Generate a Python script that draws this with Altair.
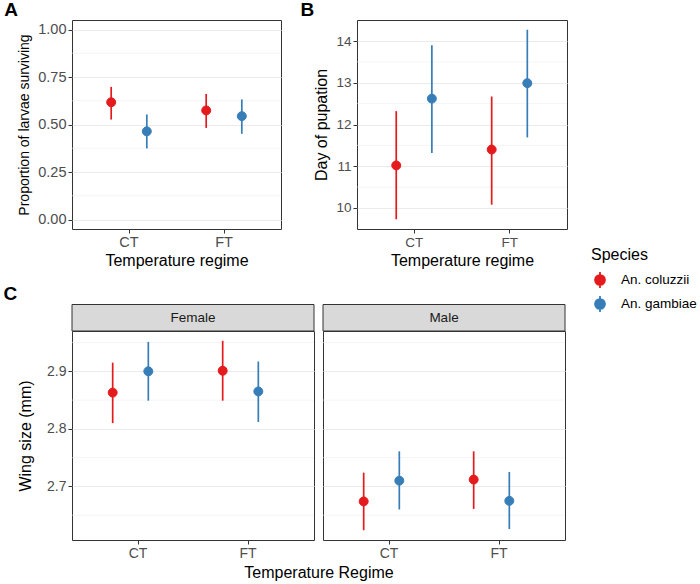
import altair as alt
import pandas as pd

# ---- data -------------------------------------------------------------
regimes = ["CT", "CT", "FT", "FT"]
species = ["An. coluzzii", "An. gambiae", "An. coluzzii", "An. gambiae"]

# A: proportion of larvae surviving (mean and 95% interval)
surv_mean = [0.617, 0.464, 0.574, 0.544]
surv_lo = [0.526, 0.374, 0.482, 0.451]
surv_hi = [0.698, 0.553, 0.661, 0.632]
surv_major = [0, 0.25, 0.5, 0.75, 1.0]
surv_minor = [0.125, 0.375, 0.625, 0.875]

# B: day of pupation
pup_mean = [11.02, 12.62, 11.40, 12.99]
pup_lo = [9.73, 11.32, 10.08, 11.69]
pup_hi = [12.32, 13.90, 12.67, 14.27]
pup_major = [10, 11, 12, 13, 14]
pup_minor = [10.5, 11.5, 12.5, 13.5]

# C: wing size, females then males
female_mean = [2.863, 2.900, 2.901, 2.865]
female_lo = [2.810, 2.849, 2.849, 2.812]
female_hi = [2.915, 2.951, 2.953, 2.917]
male_mean = [2.674, 2.710, 2.712, 2.675]
male_lo = [2.624, 2.660, 2.661, 2.626]
male_hi = [2.724, 2.761, 2.761, 2.725]
wing_major = [2.7, 2.8, 2.9]
wing_minor = [2.65, 2.75, 2.85, 2.95]

species_order = ["An. coluzzii", "An. gambiae"]
species_colors = ["#E41A1C", "#377EB8"]

FONT = "Liberation Sans"
TICK_GREY = "#4D4D4D"
BORDER = "#333333"
GRID = "#EBEBEB"


def frame(mean, lo, hi):
    return pd.DataFrame({"Regime": regimes, "Species": species,
                         "mean": mean, "lo": lo, "hi": hi})


df_a = frame(surv_mean, surv_lo, surv_hi)
df_b = frame(pup_mean, pup_lo, pup_hi)
df_f = frame(female_mean, female_lo, female_hi)
df_m = frame(male_mean, male_lo, male_hi)

# legend glyph: point with a vertical range line through it
pointrange_path = ("M0,-1L0,1M-0.62,0A0.62,0.62,0,1,1,0.62,0"
                   "A0.62,0.62,0,1,1,-0.62,0Z")

color_scale = alt.Scale(domain=species_order, range=species_colors)
species_legend = alt.Legend(title="Species", symbolType=pointrange_path,
                            symbolSize=256, symbolStrokeWidth=1.8)


def y_axis(title, values, fmt, title_size=16, label_size=14, title_pad=6.5,
           show=True):
    if not show:
        return alt.Axis(values=values, labels=False, ticks=False, title=None,
                        domain=False, gridWidth=1.1)
    return alt.Axis(title=title, values=values, format=fmt, gridWidth=1.1,
                    titleFontSize=title_size, labelFontSize=label_size,
                    titlePadding=title_pad, labelOverlap=False)


def x_axis(title, label_size=14, title_x=None):
    if title is None:
        return alt.Axis(title=None, labelAngle=0, bandPosition=0.5, gridWidth=1.1,
                        labelFontSize=label_size)
    kw = {} if title_x is None else {"titleX": title_x}
    return alt.Axis(title=title, labelAngle=0, bandPosition=0.5, gridWidth=1.1,
                    labelFontSize=label_size, **kw)


x_scale = alt.Scale(domain=["CT", "FT"], paddingInner=0, paddingOuter=0.1)
x_off = alt.XOffset("Species:N",
                    scale=alt.Scale(domain=species_order, paddingInner=0,
                                    paddingOuter=0.3333))


def pointrange(df, yaxis, domain, minor, xaxis):
    ysc = alt.Scale(domain=domain, nice=False, zero=False)
    x = alt.X("Regime:N", scale=x_scale, axis=xaxis)
    # thin minor grid lines halfway between the major ones
    minor_grid = alt.Chart(pd.DataFrame({"lo": minor})).mark_rule(
        color=GRID, strokeWidth=0.55
    ).encode(y=alt.Y("lo:Q", scale=ysc, axis=yaxis))
    rules = alt.Chart(df).mark_rule(strokeWidth=1.7).encode(
        x=x, xOffset=x_off,
        y=alt.Y("lo:Q", scale=ysc, axis=yaxis),
        y2="hi:Q",
        stroke=alt.Stroke("Species:N", scale=color_scale, legend=species_legend),
    )
    points = alt.Chart(df).mark_point(filled=True, size=80, strokeWidth=1, opacity=1).encode(
        x=x, xOffset=x_off,
        y=alt.Y("mean:Q", scale=ysc, axis=yaxis),
        fill=alt.Fill("Species:N", scale=color_scale, legend=species_legend),
        stroke=alt.Stroke("Species:N", scale=color_scale, legend=species_legend),
    )
    return alt.layer(minor_grid, rules, points)


def panel_title(letter):
    return alt.TitleParams(letter, anchor="start", frame="bounds", dx=-13,
                           fontSize=19, fontWeight="bold", font=FONT, offset=0)


# ---- panel A ----------------------------------------------------------
chart_a = pointrange(
    df_a,
    y_axis("Proportion of larvae surviving", surv_major, ".2f",
           title_size=14, label_size=14.5, title_pad=6.5),
    [-0.05, 1.05], surv_minor, x_axis("Temperature regime", label_size=14.5),
).properties(width=209, height=209, title=panel_title("A"))

# ---- panel B ----------------------------------------------------------
chart_b = pointrange(
    df_b,
    y_axis("Day of pupation", pup_major, ".0f", label_size=13.5, title_pad=6.5),
    [9.497, 14.503], pup_minor, x_axis("Temperature regime", label_size=13.5),
).properties(width=210, height=209, title=panel_title("B"))

# ---- panel C: one panel per sex, each with a grey strip on top -------
C_W = 242
C_GAP = 9
wing_domain = [2.607, 2.970]


def strip(label):
    lab = pd.DataFrame({"Sex": [label]})
    rect = alt.Chart(lab).mark_rect(
        fill="#D9D9D9", stroke=BORDER, strokeWidth=1
    ).encode(x=alt.value(0), x2=alt.value(C_W), y=alt.value(-26.5), y2=alt.value(0))
    txt = alt.Chart(lab).mark_text(
        font=FONT, fontSize=13.5, color="#1A1A1A", baseline="middle"
    ).encode(x=alt.value(C_W / 2), y=alt.value(-13), text="Sex:N")
    return rect, txt


female = alt.layer(
    pointrange(df_f, y_axis("Wing size (mm)", wing_major, ".1f", title_pad=13.5),
               wing_domain, wing_minor,
               x_axis("Temperature Regime", title_x=(2 * C_W + C_GAP) / 2)),
    *strip("Female"),
).properties(width=C_W, height=209)

male = alt.layer(
    pointrange(df_m, y_axis(None, wing_major, ".1f", show=False),
               wing_domain, wing_minor, x_axis(None)),
    *strip("Male"),
).properties(width=C_W, height=209)

chart_c = alt.hconcat(female, male, spacing=C_GAP, bounds="flush").properties(
    title=panel_title("C"))

top_row = alt.hconcat(chart_a, chart_b, spacing=17)
chart = alt.vconcat(top_row, chart_c, spacing=15).properties(
    padding={"left": 3, "top": 0, "right": 0, "bottom": 0},
    background="white",
).configure_view(
    stroke=BORDER, strokeWidth=1
).configure_axis(
    labelFont=FONT, titleFont=FONT, labelFontSize=14, labelColor=TICK_GREY,
    titleFontSize=16, titleColor="#000000", titleFontWeight="normal",
    gridColor=GRID, domain=False, tickColor=BORDER, tickSize=4, tickWidth=1,
    labelPadding=2, titlePadding=4,
).configure_legend(
    orient="none", legendX=519, legendY=227,
    titleFont=FONT, labelFont=FONT, titleFontSize=16, titleFontWeight="normal",
    titleColor="#000000", labelFontSize=13.5, labelColor="#000000",
    rowPadding=0, labelOffset=12, titlePadding=8,
)

chart.save("out.html", embed_options={"renderer": "svg", "actions": False})
